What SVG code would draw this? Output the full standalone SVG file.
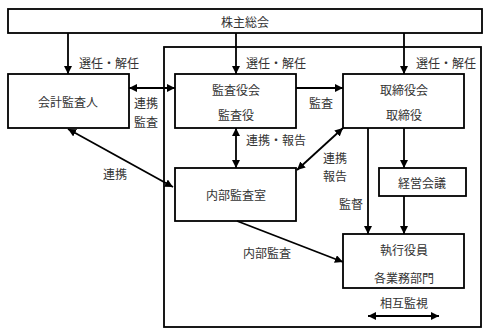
<svg xmlns="http://www.w3.org/2000/svg" width="489" height="335" viewBox="0 0 489 335">
<defs>
<marker id="ah" viewBox="0 0 10 10" refX="10" refY="5" markerWidth="4.5" markerHeight="4.5" orient="auto-start-reverse" markerUnits="strokeWidth">
<path d="M0,0 L10,5 L0,10 Z" fill="#000"/>
</marker>
<style>
.n{fill:#fff;stroke:#000;stroke-width:1.8}
text{font-family:"Noto Sans CJK JP","Noto Sans CJK SC",sans-serif;font-size:12px;fill:#333;text-anchor:middle;dominant-baseline:central}
.c line{stroke:#000;stroke-width:1.8}
.e{marker-end:url(#ah)}
.b{marker-start:url(#ah);marker-end:url(#ah)}
</style>
</defs>
<rect width="489" height="335" fill="#fff"/>
<g id="frame"><rect class="n" x="164" y="47" width="317" height="280"/></g>
<g id="shareholders"><rect class="n" x="8" y="9" width="474" height="24"/><text x="245" y="21">株主総会</text></g>
<g id="auditor"><rect class="n" x="8" y="74" width="121" height="54"/><text x="68" y="101">会計監査人</text></g>
<g id="kansayaku"><rect class="n" x="175" y="74" width="121" height="54"/><text x="236" y="89">監査役会</text><text x="236" y="114">監査役</text></g>
<g id="board"><rect class="n" x="343" y="74" width="121" height="54"/><text x="404" y="89">取締役会</text><text x="404" y="114">取締役</text></g>
<g id="internal"><rect class="n" x="175" y="168" width="121" height="53"/><text x="236" y="194">内部監査室</text></g>
<g id="mgmt"><rect class="n" x="379" y="168" width="87" height="28"/><text x="422" y="182">経営会議</text></g>
<g id="exec"><rect class="n" x="343" y="234" width="121" height="54"/><text x="404" y="249">執行役員</text><text x="404" y="277">各業務部門</text></g>
<g id="connectors" class="c">
<line class="e" x1="68" y1="33" x2="68" y2="74"/>
<line class="e" x1="236" y1="33" x2="236" y2="74"/>
<line class="e" x1="404" y1="33" x2="404" y2="74"/>
<line class="b" x1="129" y1="88" x2="175" y2="88"/>
<line class="e" x1="296" y1="88" x2="343" y2="88"/>
<line class="b" x1="236" y1="128" x2="236" y2="168"/>
<line class="b" x1="343" y1="128" x2="297" y2="170"/>
<line class="b" x1="68" y1="129" x2="173" y2="187"/>
<line class="e" x1="368" y1="128" x2="368" y2="234"/>
<line class="e" x1="404" y1="128" x2="404" y2="168"/>
<line class="e" x1="404" y1="196" x2="404" y2="234"/>
<line class="e" x1="237" y1="221" x2="343" y2="262"/>
<line class="b" x1="368" y1="316" x2="439" y2="316"/>
</g>
<g id="labels">
<text x="109" y="62">選任・解任</text>
<text x="276" y="62">選任・解任</text>
<text x="446" y="62">選任・解任</text>
<text x="146" y="102">連携</text>
<text x="146" y="121">監査</text>
<text x="321" y="102">監査</text>
<text x="276" y="139">連携・報告</text>
<text x="335" y="157">連携</text>
<text x="335" y="175">報告</text>
<text x="351" y="203">監督</text>
<text x="115" y="173">連携</text>
<text x="267" y="252">内部監査</text>
<text x="404" y="302">相互監視</text>
</g>
</svg>
